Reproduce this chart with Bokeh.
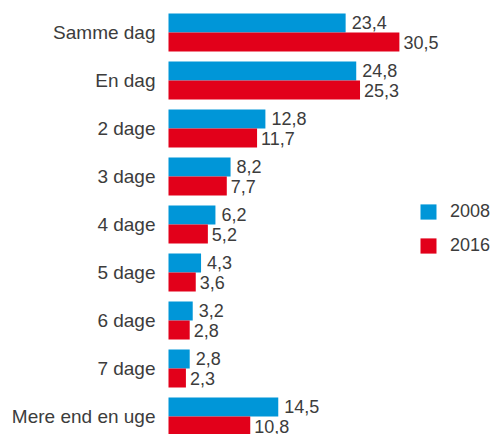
from bokeh.plotting import figure
from bokeh.models import ColumnDataSource, Range1d, Legend, LegendItem
from bokeh.core.properties import value
from bokeh.embed import file_html
from bokeh.resources import INLINE

categories = ["Samme dag", "En dag", "2 dage", "3 dage", "4 dage",
              "5 dage", "6 dage", "7 dage", "Mere end en uge"]
v2008 = [23.4, 24.8, 12.8, 8.2, 6.2, 4.3, 3.2, 2.8, 14.5]
v2016 = [30.5, 25.3, 11.7, 7.7, 5.2, 3.6, 2.8, 2.3, 10.8]
series = ["2008", "2016"]

BLUE = "#0096D8"
RED = "#E2001A"
TXT = "#3c3c3c"
FONT = "Liberation Sans"

W, H = 498, 434
x0_px = 168.0
px_per_unit = 7.57
top_px, pitch = 32.0, 48.0
half = 19.0 / pitch

idx = list(range(len(categories)))
src = ColumnDataSource(dict(
    cat=categories, i=idx,
    y08=[i - half / 2 for i in idx], y16=[i + half / 2 for i in idx],
    v08=v2008, v16=v2016,
    l08=[f"{v:.1f}".replace(".", ",") for v in v2008],
    l16=[f"{v:.1f}".replace(".", ",") for v in v2016],
    zero=[0] * len(idx),
))

p = figure(width=W, height=H, output_backend="svg", toolbar_location=None,
           x_range=Range1d(-x0_px / px_per_unit, (W - x0_px) / px_per_unit),
           y_range=Range1d((H - top_px) / pitch, -top_px / pitch),
           min_border=0, min_border_left=0, min_border_right=0,
           min_border_top=0, min_border_bottom=0)
p.axis.visible = False
p.grid.visible = False
p.outline_line_color = None
p.background_fill_color = "white"
p.border_fill_color = "white"

r08 = p.hbar(y="y08", right="v08", left=0, height=half, source=src,
             fill_color=BLUE, line_color=None)
r16 = p.hbar(y="y16", right="v16", left=0, height=half, source=src,
             fill_color=RED, line_color=None)

p.text(x="zero", y="i", text="cat", source=src, x_offset=-13,
       text_align="right", text_baseline="middle", text_font=value(FONT),
       text_font_size="19px", text_color=TXT)
p.text(x="v08", y="y08", text="l08", source=src, x_offset=6, y_offset=-1,
       text_align="left", text_baseline="middle", text_font=value(FONT),
       text_font_size="18px", text_color=TXT)
p.text(x="v16", y="y16", text="l16", source=src, x_offset=4, y_offset=0,
       text_align="left", text_baseline="middle", text_font=value(FONT),
       text_font_size="18px", text_color=TXT)

legend = Legend(items=[LegendItem(label=series[0], renderers=[r08]),
                       LegendItem(label=series[1], renderers=[r16])],
                location=(418, 178), orientation="vertical",
                glyph_width=20, glyph_height=19, label_height=19,
                label_standoff=12, spacing=13, padding=0, margin=0,
                border_line_color=None, background_fill_alpha=0,
                label_text_font=FONT, label_text_font_size="18px",
                label_text_color=TXT, label_text_baseline="middle")
p.add_layout(legend, "center")

open("out.html", "w").write(file_html(p, INLINE))
